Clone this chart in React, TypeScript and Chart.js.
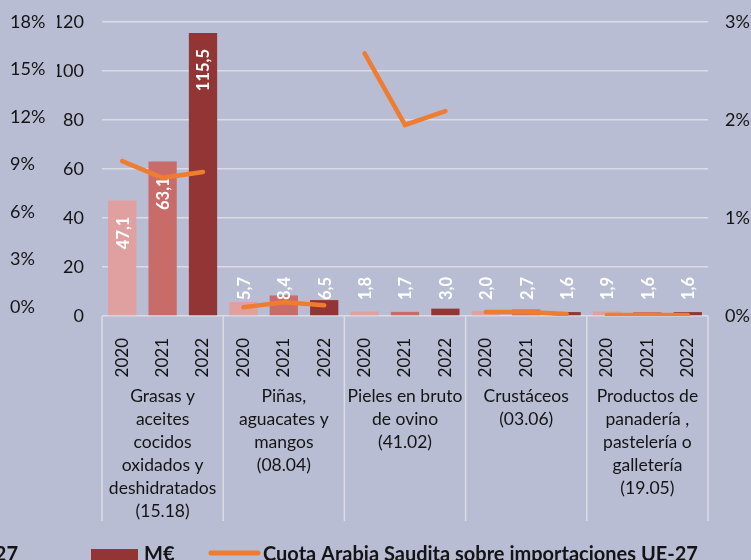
import React, { useEffect, useRef } from "react";
import { Chart, registerables } from "chart.js";

Chart.register(...registerables);

// ---- data ----
const groupLabels: string[][] = [
  ["Grasas y", "aceites", "cocidos", "oxidados y", "deshidratados", "(15.18)"],
  ["Piñas,", "aguacates y", "mangos", "(08.04)"],
  ["Pieles en bruto", "de ovino", "(41.02)"],
  ["Crustáceos", "(03.06)"],
  ["Productos de", "panadería ,", "pastelería o", "galletería", "(19.05)"],
];
const years = ["2020", "2021", "2022"];
const importsMEUR = [47.1, 63.1, 115.5, 5.7, 8.4, 6.5, 1.8, 1.7, 3.0, 2.0, 2.7, 1.6, 1.9, 1.6, 1.6];
const shareSaudi = [1.58, 1.41, 1.47, 0.09, 0.14, 0.11, 2.68, 1.95, 2.09, 0.04, 0.04, 0.02, 0.01, 0.01, 0.01];
const leftPctTicks = [0, 3, 6, 9, 12, 15, 18];
const rightPctTicks = [0, 1, 2, 3];
const barLegend = "M€";
const lineLegend = "Cuota Arabia Saudita sobre importaciones UE-27";
const cutLegend = "UE-27";

// ---- styles ----
const BG = "#b9bdd3";
const GRID = "#dcdce4";
const TEXT = "#141414";
const ORANGE = "#ee7d31";
const yearColors = ["#dfa09f", "#c96b69", "#943535"];
const FONT = "Lato";

const labels = groupLabels.flatMap(() => years);

const fixVertical = (w: number) => (s: any) => {
  s.width = w;
  s.paddingTop = 0;
  s.paddingBottom = 0;
};

const decorPlugin = {
  id: "decor",
  afterDatasetDraw(chart: any, args: any) {
    if (args.index !== 0) return;
    const ctx = chart.ctx;
    const meta = chart.getDatasetMeta(0);
    const base = chart.scales.y.getPixelForValue(0);
    ctx.save();
    ctx.fillStyle = "#ffffff";
    ctx.font = `bold 16.5px ${FONT}`;
    ctx.textAlign = "right";
    ctx.textBaseline = "middle";
    meta.data.forEach((bar: any, i: number) => {
      const v = importsMEUR[i];
      const txt = v.toFixed(1).replace(".", ",");
      const yEnd = Math.min(bar.y + 16, base - 39);
      ctx.save();
      ctx.translate(bar.x + 1, yEnd);
      ctx.rotate(-Math.PI / 2);
      ctx.fillText(txt, 0, 0);
      ctx.restore();
    });
    ctx.restore();
  },
  afterDraw(chart: any) {
    const ctx = chart.ctx;
    const x = chart.scales.x;
    const area = chart.chartArea;
    const slot = x.getPixelForValue(1) - x.getPixelForValue(0);
    ctx.save();
    // separators
    ctx.strokeStyle = GRID;
    ctx.lineWidth = 1.5;
    for (let g = 0; g <= groupLabels.length; g++) {
      const px = x.getPixelForValue(g * 3) - slot / 2;
      ctx.beginPath();
      ctx.moveTo(px, area.bottom);
      ctx.lineTo(px, 521);
      ctx.stroke();
    }
    // group labels
    ctx.fillStyle = TEXT;
    ctx.font = `17.5px ${FONT}`;
    ctx.textAlign = "center";
    ctx.textBaseline = "middle";
    groupLabels.forEach((lines, g) => {
      const cx = x.getPixelForValue(g * 3 + 1);
      lines.forEach((l, k) => {
        ctx.fillText(l, cx, 396 + k * 23);
      });
    });
    // legend
    ctx.font = `bold 20px ${FONT}`;
    ctx.textBaseline = "alphabetic";
    ctx.textAlign = "right";
    ctx.fillText(cutLegend, 18, 561);
    ctx.textAlign = "left";
    ctx.fillStyle = yearColors[2];
    ctx.fillRect(91, 549, 47, 14);
    ctx.fillStyle = TEXT;
    ctx.fillText(barLegend, 144, 561);
    ctx.strokeStyle = ORANGE;
    ctx.lineWidth = 5;
    ctx.lineCap = "round";
    ctx.beginPath();
    ctx.moveTo(211, 553);
    ctx.lineTo(258, 553);
    ctx.stroke();
    ctx.fillText(lineLegend, 263, 561);
    ctx.restore();
  },
};

export default function App() {
  const ref = useRef<HTMLCanvasElement | null>(null);
  useEffect(() => {
    if (!ref.current) return;
    Chart.defaults.font.family = FONT;
    const chart = new Chart(ref.current, {
      type: "bar",
      data: {
        labels,
        datasets: [
          {
            type: "bar",
            label: barLegend,
            data: importsMEUR,
            backgroundColor: importsMEUR.map((_, i) => yearColors[i % 3]),
            barPercentage: 0.7,
            categoryPercentage: 1,
            yAxisID: "y",
            order: 2,
          },
          {
            type: "line",
            label: lineLegend,
            data: shareSaudi,
            borderColor: ORANGE,
            borderWidth: 4.5,
            borderCapStyle: "round",
            borderJoinStyle: "miter",
            pointRadius: 0,
            tension: 0,
            yAxisID: "y2",
            order: 1,
            segment: {
              borderColor: (c: any) => (c.p0DataIndex % 3 === 2 ? "rgba(0,0,0,0)" : ORANGE),
            },
          } as any,
        ],
      },
      options: {
        responsive: false,
        animation: false,
        layout: { padding: { left: 10, right: 0, top: 22, bottom: 0 } },
        plugins: { legend: { display: false }, tooltip: { enabled: false } },
        scales: {
          x: {
            grid: { display: false },
            border: { display: false },
            ticks: {
              minRotation: 90,
              maxRotation: 90,
              autoSkip: false,
              color: TEXT,
              font: { size: 17, family: FONT },
              padding: 14,
            },
            afterFit: (s: any) => {
              s.height = 244;
              s.paddingLeft = 0;
              s.paddingRight = 0;
            },
          },
          y: {
            position: "left",
            weight: 0,
            min: 0,
            max: 120,
            ticks: { stepSize: 20, color: TEXT, font: { size: 18, family: FONT }, padding: 18 },
            grid: { color: GRID, lineWidth: 1.5, drawTicks: false },
            border: { display: false },
            afterFit: fixVertical(45),
          },
          yPct: {
            position: "left",
            weight: 1,
            min: -0.568,
            max: 18,
            afterBuildTicks: (s: any) => {
              s.ticks = leftPctTicks.map((v) => ({ value: v }));
            },
            ticks: {
              color: TEXT,
              font: { size: 18, family: FONT },
              crossAlign: "far",
              callback: (v: any) => v + "%",
            },
            grid: { display: false, drawTicks: false },
            border: { display: false },
            afterFit: fixVertical(47),
          },
          y2: {
            position: "right",
            min: 0,
            max: 3,
            afterBuildTicks: (s: any) => {
              s.ticks = rightPctTicks.map((v) => ({ value: v }));
            },
            ticks: {
              color: TEXT,
              font: { size: 18, family: FONT },
              padding: 17,
              callback: (v: any) => v + "%",
            },
            grid: { display: false, drawTicks: false },
            border: { display: false },
            afterFit: fixVertical(43),
          },
        } as any,
      },
      plugins: [decorPlugin],
    });
    return () => chart.destroy();
  }, []);
  return (
    <div
      style={{
        position: "fixed",
        left: 0,
        top: 0,
        width: 751,
        height: 560,
        background: BG,
        overflow: "hidden",
      }}
    >
      <canvas ref={ref} width={751} height={560} style={{ display: "block" }} />
    </div>
  );
}
